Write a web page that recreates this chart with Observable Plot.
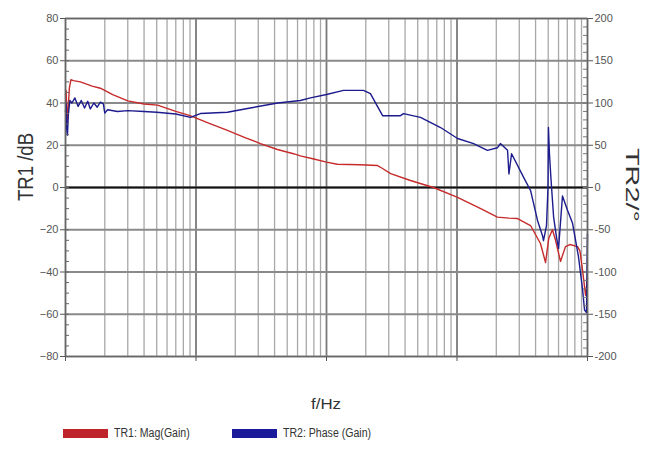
<!DOCTYPE html>
<html><head><meta charset="utf-8">
<script src="https://cdn.jsdelivr.net/npm/d3@7"></script>
<script src="https://cdn.jsdelivr.net/npm/@observablehq/plot@0.6"></script>
<style>
body{margin:0;background:#fff;font-family:"Liberation Sans",Arial,sans-serif;}
#wrap{position:relative;width:655px;height:450px;}
#legend{position:absolute;top:426px;left:63px;font-size:12px;color:#333;white-space:nowrap;}
.item{position:absolute;top:0;display:flex;align-items:center;}
.sw{display:inline-block;width:45px;height:9px;margin-right:6px;}
.lt{display:inline-block;transform:scaleX(0.88);transform-origin:left center;}
</style></head>
<body><div id="wrap"><div id="chart"></div>
<div id="legend">
  <div class="item" style="left:0"><span class="sw" style="background:#c0242b"></span><span class="lt">TR1: Mag(Gain)</span></div>
  <div class="item" style="left:169px"><span class="sw" style="background:#1a1a9a"></span><span class="lt">TR2: Phase (Gain)</span></div>
</div></div>
<script>
// Frequencies (Hz) and magnitude (dB) of TR1
const magFreq = [100,101,102,103,104,105,107,110,115,130,160,185,230,300,400,507,700,900,1250,1742,2400,3118,4200,5584,6300,8000,10000,12100,18000,24600,26900,31000,44000,66000,101000,152000,204000,250000,291000,366000,436000,477000,505000,539000,569000,621000,678000,733000,838000,875000,916000,966000,1000000];
const magDb   = [44,46,40,31,34,38,47,51,50.6,50,48,47,44,41,39.5,39,36,34,30.5,27,23.5,20.8,18,16,15,13.5,12,11,10.8,10.4,9,6.6,3.3,0,-4.7,-10,-14,-14.5,-14.7,-18,-26.5,-35.5,-24,-20,-25,-35,-28,-27,-28,-30,-39,-51,-43];

// Frequencies (Hz) and phase (degrees) of TR2
const phaseFreq = [100,101,102,103.5,105,108,112,118,125,132,140,148,155,165,175,185,195,200,210,250,300,400,500,700,908,1080,1742,2480,4220,6300,7540,10000,13500,19200,21700,26900,36900,38900,52500,74800,101000,134000,171000,204000,215000,244000,250000,262000,324000,366000,414000,452000,460000,485000,498000,502000,511000,525000,550000,580000,600000,643000,703000,767000,853000,916000,949000,983000,1000000];
const phaseDeg  = [90,100,70,62,85,103,100,106,96,103,94,102,93,100,95,101,99,88,92,90,91,90,89,87,83,87.5,89,93.5,100,103,106,110,115,115,111,85,85,87.5,83,71,58,52,44,47,52,44,16,40,12,-3.5,-39,-57,-63,-45,0,71,40,10,-35,-60,-72,-10,-27,-42,-82,-120,-145,-148,-55];

// Axes
const decades = [1e2,1e3,1e4,1e5,1e6];
const xTickLabels = ["10²","10³","10⁴","10⁵","10⁶"];
const minorMultipliers = [2,3,4,5,6,7,8,9];
const magTicks = [-80,-60,-40,-20,0,20,40,60,80];
const magMinorTicks = d3.range(-80, 80.1, 5);
const phaseTicks = [-200,-150,-100,-50,0,50,100,150,200];
const phaseMinorTicks = d3.range(-200, 200.1, 10);
const phasePerDb = 2.5; // right axis: 200° ↔ 80 dB

const minorX = decades.slice(0,-1).flatMap(d => minorMultipliers.map(m => d*m));
const mag = magFreq.map((f,i) => ({f, v: magDb[i]}));
const phase = phaseFreq.map((f,i) => ({f, v: phaseDeg[i] / phasePerDb}));

const chart = Plot.plot({
  width: 655, height: 415,
  marginTop: 18, marginBottom: 59, marginLeft: 65, marginRight: 68,
  style: {fontFamily: "'Liberation Sans', Arial, sans-serif", fontSize: "11px", color: "#555", background: "white", overflow: "visible"},
  x: {type: "log", domain: [1e2, 1e6]},
  y: {domain: [-80, 80]},
  marks: [
    Plot.gridX(minorX, {stroke: "#a8a8a8", strokeOpacity: 1, strokeWidth: 1.3}),
    Plot.gridX(decades, {stroke: "#7a7a7a", strokeOpacity: 1, strokeWidth: 1.8}),
    Plot.gridY(magTicks, {stroke: "#8a8a8a", strokeOpacity: 1, strokeWidth: 1.8}),
    Plot.ruleY([0], {stroke: "#111", strokeWidth: 2}),
    Plot.line(mag, {x: "f", y: "v", stroke: "#c62a2a", strokeWidth: 1.4}),
    Plot.line(phase, {x: "f", y: "v", stroke: "#1c1c8e", strokeWidth: 1.4}),
    Plot.axisX(decades, {tickFormat: (d,i) => xTickLabels[i], tickSize: 5, tickPadding: 7, label: null, stroke: "#555", fontSize: 11}),
    Plot.axisY(magTicks, {anchor: "left", tickSize: 5, tickPadding: 2, label: null, stroke: "#555"}),
    Plot.axisY(magMinorTicks, {anchor: "left", tickSize: 4, dx: 4, tickFormat: () => "", label: null, stroke: "#666"}),
    Plot.axisY(phaseTicks.map(p => p/phasePerDb), {anchor: "right", tickSize: 5, tickPadding: 2, tickFormat: (d,i) => String(phaseTicks[i]), label: null, stroke: "#555"}),
    Plot.axisY(phaseMinorTicks.map(p => p/phasePerDb), {anchor: "right", tickSize: 5, dx: -5, tickFormat: () => "", label: null, stroke: "#777"}),
    Plot.frame({stroke: "#666", strokeWidth: 1.2})
  ]
});
document.getElementById("chart").appendChild(chart);

const svg = d3.select(chart);
svg.append("text").attr("transform", "translate(33,167) rotate(-90)")
  .attr("text-anchor", "middle").attr("font-size", 22).attr("fill", "#333")
  .attr("textLength", 68).attr("lengthAdjust", "spacingAndGlyphs").text("TR1 /dB");
svg.append("text").attr("transform", "translate(626,185) rotate(90)")
  .attr("text-anchor", "middle").attr("font-size", 19).attr("fill", "#333")
  .attr("textLength", 74).attr("lengthAdjust", "spacingAndGlyphs").text("TR2/°");
svg.append("text").attr("x", 326).attr("y", 409)
  .attr("text-anchor", "middle").attr("font-size", 15).attr("fill", "#333")
  .attr("textLength", 30).attr("lengthAdjust", "spacingAndGlyphs").text("f/Hz");
</script>
</body></html>
